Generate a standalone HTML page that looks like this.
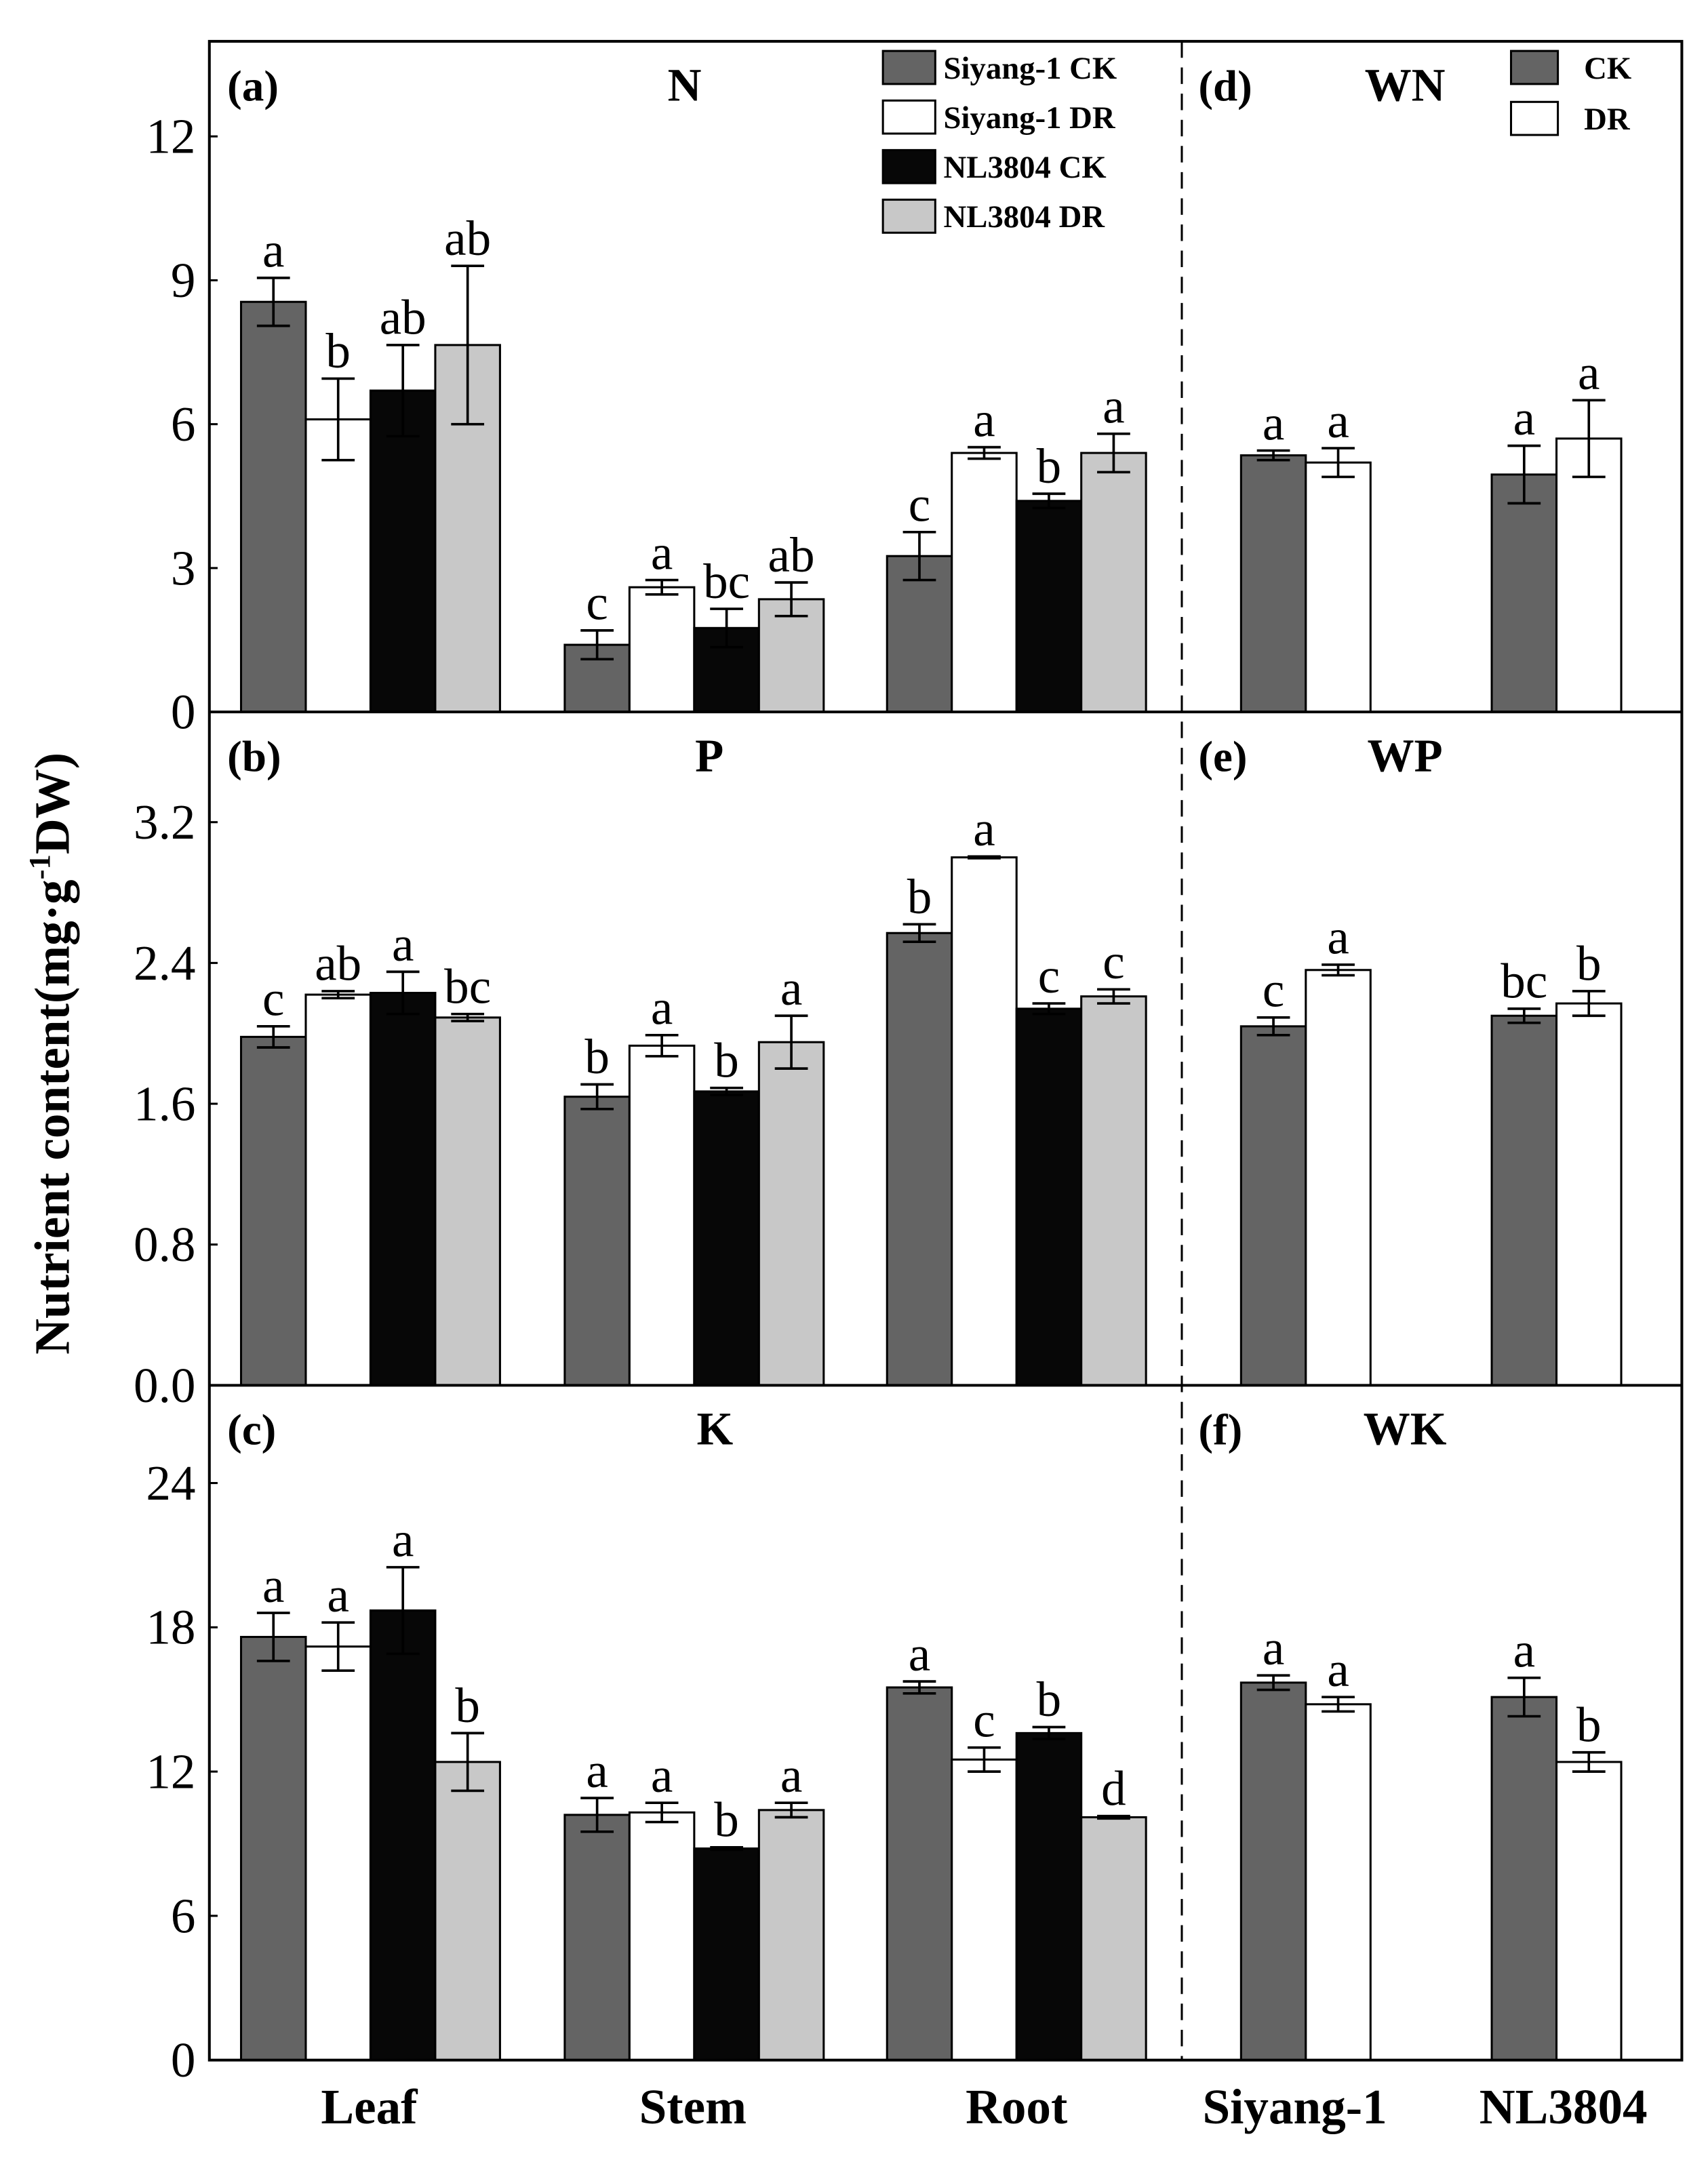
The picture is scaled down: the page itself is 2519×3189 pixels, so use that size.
<!DOCTYPE html>
<html><head><meta charset="utf-8"><style>html,body{margin:0;padding:0;background:#fff}svg{display:block}svg text{font-family:"Liberation Serif","Times New Roman",serif}</style></head>
<body>
<svg id="chart" width="2519" height="3189" viewBox="0 0 1240 1570" preserveAspectRatio="none" xmlns="http://www.w3.org/2000/svg"></svg>
<script>
const organs = ["Leaf","Stem","Root"];
const varieties = ["Siyang-1","NL3804"];
const seriesNames = ["Siyang-1 CK","Siyang-1 DR","NL3804 CK","NL3804 DR"];
const nVals = [[8.55,6.1,6.7,7.65],[1.4,2.6,1.75,2.35],[3.25,5.4,4.4,5.4]];
const nErr = [[0.5,0.85,0.95,1.65],[0.3,0.15,0.4,0.35],[0.5,0.12,0.15,0.4]];
const nLet = [["a","b","ab","ab"],["c","a","bc","ab"],["c","a","b","a"]];
const pVals = [[1.98,2.22,2.23,2.09],[1.64,1.93,1.67,1.95],[2.57,3.0,2.14,2.21]];
const pErr = [[0.06,0.02,0.12,0.02],[0.07,0.06,0.02,0.15],[0.05,0.005,0.03,0.04]];
const pLet = [["c","ab","a","bc"],["b","a","b","a"],["b","a","c","c"]];
const kVals = [[17.6,17.2,18.7,12.4],[10.2,10.3,8.8,10.4],[15.5,12.5,13.6,10.1]];
const kErr = [[1.0,1.0,1.8,1.2],[0.7,0.4,0.05,0.3],[0.25,0.5,0.25,0.05]];
const kLet = [["a","a","a","b"],["a","a","b","a"],["a","c","b","d"]];
const wnVals = [[5.35,5.2],[4.95,5.7]];
const wnErr = [[0.1,0.3],[0.6,0.8]];
const wnLet = [["a","a"],["a","a"]];
const wpVals = [[2.04,2.36],[2.1,2.17]];
const wpErr = [[0.05,0.03],[0.04,0.07]];
const wpLet = [["c","a"],["bc","b"]];
const wkVals = [[15.7,14.8],[15.1,12.4]];
const wkErr = [[0.3,0.3],[0.8,0.4]];
const wkLet = [["a","a"],["a","b"]];
const nTicks = [0,3,6,9,12];
const pTicks = [0.0,0.8,1.6,2.4,3.2];
const kTicks = [0,6,12,18,24];

const svg = document.getElementById('chart');
const NS = "http://www.w3.org/2000/svg";
function el(tag, attrs, parent){const e=document.createElementNS(NS,tag);for(const k in attrs)e.setAttribute(k,attrs[k]);(parent||svg).appendChild(e);return e;}
function txt(s, attrs){const t=el('text',attrs);t.textContent=s;return t;}
const colors=["#646464","#ffffff","#070707","#c8c8c8"];
const L=152,R=1221,DX=858,BW=47;
const groupStart=[175,410,644];
const rightStart=[901,1083];

const panels=[
 {top:30,bottom:517,perUnit:34.83,ticks:nTicks,fmt:v=>String(v),vals:nVals,err:nErr,let:nLet,wv:wnVals,we:wnErr,wl:wnLet,lab:"(a)",title:"N",rlab:"(d)",rtitle:"WN",name:"n"},
 {top:517,bottom:1006,perUnit:127.8,ticks:pTicks,fmt:v=>v.toFixed(1),vals:pVals,err:pErr,let:pLet,wv:wpVals,we:wpErr,wl:wpLet,lab:"(b)",title:"P",rlab:"(e)",rtitle:"WP",name:"p"},
 {top:1006,bottom:1496,perUnit:17.46,ticks:kTicks,fmt:v=>String(v),vals:kVals,err:kErr,let:kLet,wv:wkVals,we:wkErr,wl:wkLet,lab:"(c)",title:"K",rlab:"(f)",rtitle:"WK",name:"k"}
];

panels.forEach(p=>{
  const y=v=>p.bottom-v*p.perUnit;
  p.ticks.forEach(t=>{
    const tk=el('line',{x1:L,x2:L+6,y1:y(t),y2:y(t),stroke:"#000","stroke-width":1.5});
    
    
    const tl=txt(p.fmt(t),{x:L-10,y:y(t)+12,"text-anchor":"end","font-size":36});
    
    
  });
  function bar(x,v,e,l,c,nm){
    const r=el('rect',{x:x,y:y(v),width:BW,height:v*p.perUnit,fill:colors[c],stroke:"#000","stroke-width":1.5});
    
    
    const cx=x+BW/2;
    const g=el('g',{stroke:"#000","stroke-width":1.8});
    
    
    el('line',{x1:cx,x2:cx,y1:y(v+e),y2:y(v-e)},g);
    el('line',{x1:cx-12,x2:cx+12,y1:y(v+e),y2:y(v+e)},g);
    el('line',{x1:cx-12,x2:cx+12,y1:y(v-e),y2:y(v-e)},g);
    const t=txt(l,{x:cx,y:y(v+e)-8,"text-anchor":"middle","font-size":36});
    
    
  }
  p.vals.forEach((g,gi)=>g.forEach((v,si)=>bar(groupStart[gi]+si*BW,v,p.err[gi][si],p.let[gi][si],si,'bar-'+p.name+'-'+organs[gi].toLowerCase()+'-'+si)));
  p.wv.forEach((g,gi)=>g.forEach((v,si)=>bar(rightStart[gi]+si*BW,v,p.we[gi][si],p.wl[gi][si],si,'bar-w'+p.name+'-'+varieties[gi].toLowerCase()+'-'+si)));
  const a=txt(p.lab,{x:165,y:p.top+43,"font-size":32,"font-weight":"bold"});
  
  const b=txt(p.title,{x:p.name=="n"?497:(p.name=="p"?515:519),y:p.top+43,"text-anchor":"middle","font-size":34,"font-weight":"bold"});
  
  const c=txt(p.rlab,{x:870,y:p.top+43,"font-size":32,"font-weight":"bold"});
  
  const d=txt(p.rtitle,{x:1020,y:p.top+43,"text-anchor":"middle","font-size":34,"font-weight":"bold"});
  
});

const fr=el('rect',{x:L,y:30,width:R-L,height:1466,fill:"none",stroke:"#000","stroke-width":2});

[517,1006].forEach(yy=>{const s=el('line',{x1:L,x2:R,y1:yy,y2:yy,stroke:"#000","stroke-width":2});
 });
const dl=el('line',{x1:DX,x2:DX,y1:30,y2:1496,stroke:"#000","stroke-width":1.5,"stroke-dasharray":"12,7"});


const xl=[["Leaf",268],["Stem",503],["Root",738],["Siyang-1",940],["NL3804",1135]];
xl.forEach(([s,x])=>{const t=txt(s,{x:x,y:1542,"text-anchor":"middle","font-size":36,"font-weight":"bold"});
 });

const yt=el('text',{x:0,y:0,transform:"translate(50,765) rotate(-90)","text-anchor":"middle","font-size":36,"font-weight":"bold"});
yt.innerHTML='Nutrient content(mg·g<tspan font-size="22" dy="-14">-1</tspan><tspan dy="14">DW)</tspan>';


seriesNames.forEach((s,i)=>{
  const yy=37+i*36;
  const r=el('rect',{x:641,y:yy,width:38,height:24,fill:colors[i],stroke:"#000","stroke-width":1.5});
  
  const t=txt(s,{x:685,y:yy+20,"font-size":23,"font-weight":"bold"});
  
});
["CK","DR"].forEach((s,i)=>{
  const yy=37+i*37;
  const r=el('rect',{x:1097,y:yy,width:34,height:24,fill:colors[i],stroke:"#000","stroke-width":1.5});
  
  const t=txt(s,{x:1150,y:yy+20,"font-size":23,"font-weight":"bold"});
  
});
</script>
</body></html>
